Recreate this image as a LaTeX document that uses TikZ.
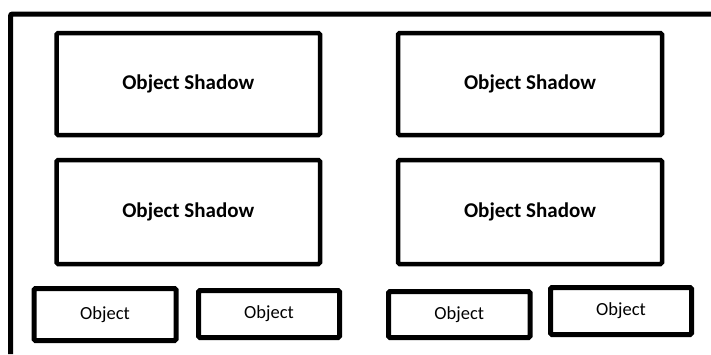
\documentclass[tikz,border=0pt]{standalone}
\usepackage{fontspec}
\setmainfont{Carlito}
\begin{document}
\begin{tikzpicture}[x=1pt,y=-1pt,
  frameline/.style={line width=5pt, rounded corners=2pt},
  shadowbox/.style={draw, line width=4.5pt, rounded corners=1.5pt, inner sep=0pt,
    font=\bfseries\fontsize{21}{25}\selectfont},
  objbox/.style={draw, line width=5pt, rounded corners=1.5pt, inner sep=0pt,
    font=\fontsize{18.5}{22}\selectfont}]
\useasboundingbox (0,0) rectangle (711,354);

% outer frame, open to the right and bottom
\begin{scope}
  \clip (0,0) rectangle (711,354);
  \coordinate (fbot) at (10.5,354);
  \coordinate (fcorner) at (10.5,14);
  \coordinate (fright) at (711,14);
  \draw[frameline] (fbot) -- (fcorner) -- (fright);
\end{scope}

% large boxes
\node[shadowbox, minimum width=263.5pt, minimum height=102pt] (s1) at (188.25,84) {Object Shadow};
\node[shadowbox, minimum width=264pt, minimum height=102pt] (s2) at (530,84) {Object Shadow};
\node[shadowbox, minimum width=263.5pt, minimum height=104pt] (s3) at (188.25,212) {Object Shadow};
\node[shadowbox, minimum width=264pt, minimum height=104pt] (s4) at (530,212) {Object Shadow};

% small boxes
\node[objbox, minimum width=142pt, minimum height=52pt] (o1) at (105,314.5) {Object};
\node[objbox, minimum width=141pt, minimum height=47pt] (o2) at (269,314) {Object};
\node[objbox, minimum width=141.5pt, minimum height=46pt] (o3) at (459.25,314.5) {Object};
\node[objbox, minimum width=141pt, minimum height=47pt] (o4) at (621,311) {Object};
\end{tikzpicture}
\end{document}
